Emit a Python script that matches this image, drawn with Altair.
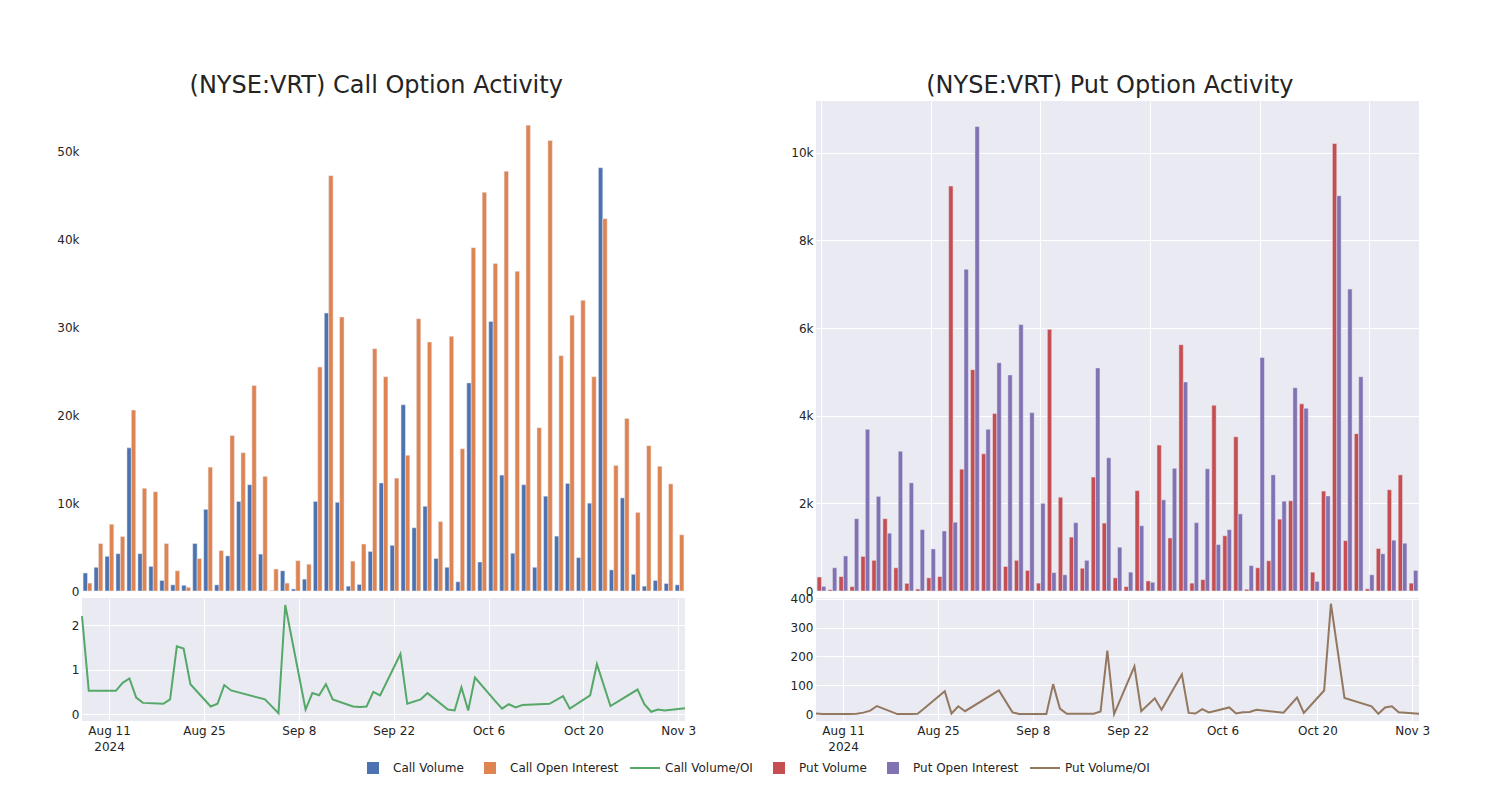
import altair as alt
import pandas as pd

# ---------------- data ----------------
dates = [
    "2024-08-07", "2024-08-08", "2024-08-12", "2024-08-13", "2024-08-14", "2024-08-15",
    "2024-08-16", "2024-08-19", "2024-08-20", "2024-08-21", "2024-08-22", "2024-08-23",
    "2024-08-26", "2024-08-27", "2024-08-28", "2024-08-29", "2024-09-03", "2024-09-05",
    "2024-09-06", "2024-09-09", "2024-09-10", "2024-09-11", "2024-09-12", "2024-09-13",
    "2024-09-16", "2024-09-17", "2024-09-18", "2024-09-19", "2024-09-20", "2024-09-23",
    "2024-09-24", "2024-09-26", "2024-09-27", "2024-09-30", "2024-10-01", "2024-10-02",
    "2024-10-03", "2024-10-04", "2024-10-07", "2024-10-08", "2024-10-09", "2024-10-10",
    "2024-10-11", "2024-10-15", "2024-10-17", "2024-10-18", "2024-10-21", "2024-10-22",
    "2024-10-24", "2024-10-28", "2024-10-29", "2024-10-30", "2024-10-31", "2024-11-01",
    "2024-11-04",
]

call_volume = [
    2050, 2700, 3950, 4250, 16300, 4250, 2800, 1200, 700, 650, 5400, 9300,
    700, 4000, 10200, 12100, 4200, 50, 2300, 230, 1350, 10200, 31650, 10100,
    550, 750, 4500, 12300, 5200, 21200, 7200, 9650, 3700, 2700, 1050, 23700,
    3300, 30700, 13200, 4300, 12100, 2700, 10800, 6250, 12250, 3800, 10000, 48200,
    2400, 10600, 1900, 550, 1200, 850, 700,
]
call_open_interest = [
    900, 5400, 7600, 6200, 20600, 11700, 11300, 5400, 2300, 420, 3700, 14100,
    4600, 17700, 15750, 23400, 13050, 2500, 900, 3450, 3050, 25500, 47300, 31200,
    3400, 5350, 27600, 24400, 12850, 15450, 31000, 28350, 7900, 29000, 16200, 39100,
    45400, 37300, 47800, 36400, 53050, 18600, 51300, 26800, 31400, 33100, 24400, 42400,
    14300, 19650, 8950, 16550, 14200, 12200, 6400,
]
call_vol_oi = [
    2.2, 0.52, 0.52, 0.7, 0.8, 0.37, 0.25, 0.23, 0.33, 1.52, 1.47, 0.67,
    0.17, 0.23, 0.65, 0.53, 0.33, 0.02, 2.45, 0.1, 0.47, 0.42, 0.67, 0.33,
    0.17, 0.16, 0.17, 0.5, 0.42, 1.35, 0.23, 0.33, 0.47, 0.1, 0.08, 0.6,
    0.08, 0.82, 0.29, 0.12, 0.22, 0.15, 0.2, 0.23, 0.4, 0.12, 0.42, 1.12,
    0.18, 0.55, 0.22, 0.05, 0.1, 0.08, 0.13,
]

put_volume = [
    320, 30, 330, 100, 790, 700, 1650, 530, 175, 45, 300, 330,
    9240, 2780, 5050, 3130, 4050, 560, 700, 470, 180, 5970, 2140, 1230,
    520, 2600, 1550, 300, 100, 2290, 230, 3330, 1210, 5620, 180, 260,
    4240, 1260, 3520, 40, 530, 690, 1640, 2060, 4270, 430, 2280, 10210,
    1150, 3590, 50, 970, 2310, 2650, 180,
]
put_open_interest = [
    105, 530, 800, 1650, 3690, 2160, 1320, 3190, 2470, 1400, 960, 1370,
    1570, 7340, 10600, 3690, 5210, 4930, 6080, 4070, 2000, 420, 370, 1560,
    700, 5090, 3040, 1000, 430, 1490, 200, 2080, 2800, 4770, 1560, 2790,
    1060, 1400, 1760, 580, 5330, 2650, 2050, 4640, 4170, 220, 2170, 9020,
    6890, 4890, 370, 850, 1160, 1090, 470,
]
put_vol_oi = [
    2, 0, 0.5, 1, 5, 12, 28, 0, 0.5, 0.5, 1, 20,
    79, 2, 27, 10, 82, 6, 0.5, 0.5, 0.5, 104, 19, 1,
    1, 1, 9, 220, 0, 166, 10, 55, 15, 138, 4, 2,
    17, 6, 23, 2, 6, 7, 15, 5, 57, 4, 82, 383,
    56, 27, 1, 23, 27, 6, 1,
]

bottom_tick_dates = [(2024, 8, 11), (2024, 8, 25), (2024, 9, 8), (2024, 9, 22),
                     (2024, 10, 6), (2024, 10, 20), (2024, 11, 3)]
call_bar_ticks = [0, 10000, 20000, 30000, 40000, 50000]
put_bar_ticks = [0, 2000, 4000, 6000, 8000, 10000]
call_ratio_ticks = [0, 1, 2]
put_ratio_ticks = [0, 100, 200, 300, 400]

# legend order (as shown) and colours
SERIES = ["Call Volume", "Call Open Interest", "Call Volume/OI",
          "Put Volume", "Put Open Interest", "Put Volume/OI"]
COLORS = ["#4C72B0", "#DD8452", "#55A868", "#C44E52", "#8172B3", "#937860"]
SQ = "M-0.4,-0.4H0.4V0.4H-0.4Z"
LN = "M-1,-0.067H1V0.067H-1Z"
SHAPES = [SQ, SQ, LN, SQ, SQ, LN]

FONT = "DejaVu Sans"
TXT = "#242424"
BG = "#EAEAF2"

W = 603
H_BAR = 490
H_LINE = 123
N = len(dates)
STEP = W / N          # band step of the bar panels (px)
HALF_SHIFT = STEP * 0.2  # each bar is half of the 0.8-step band

# mark colour scale (domain in a different order than the legend one)
MARK_SERIES = ["Call Volume", "Call Open Interest", "Put Volume", "Put Open Interest",
               "Call Volume/OI", "Put Volume/OI"]
MARK_COLORS = [COLORS[SERIES.index(s)] for s in MARK_SERIES]
color_scale = alt.Scale(domain=MARK_SERIES, range=MARK_COLORS)

grid_dates = dates[::10]
bottom_values = [alt.DateTime(year=y, month=m, date=d, utc=True) for (y, m, d) in bottom_tick_dates]
label_expr = ("utcmonth(datum.value) == 7 && utcdate(datum.value) == 11 ? "
              "[utcFormat(datum.value, '%b %-d'), '2024'] : utcFormat(datum.value, '%b %-d')")
k_expr = "datum.value == 0 ? '0' : format(datum.value / 1000, 'd') + 'k'"


def panel(vol, oi, ratio, names, bar_dom, bar_ticks, line_dom, line_ticks, title, legend=None):
    vname, oname, rname = names
    bdf = pd.DataFrame({
        "date": dates + dates,
        "value": vol + oi,
        "series": [vname] * N + [oname] * N,
    })
    ldf = pd.DataFrame({"date": dates, "ratio": ratio, "series": [rname] * N})

    enc = dict(
        x=alt.X("date:O", title=None,
                scale=alt.Scale(paddingInner=0.2, paddingOuter=0.1),
                axis=alt.Axis(values=grid_dates, labels=False, ticks=False, domain=False,
                              grid=True, bandPosition=0.5)),
        y=alt.Y("value:Q", title=None,
                scale=alt.Scale(domain=bar_dom, nice=False, zero=True),
                axis=alt.Axis(values=bar_ticks, labelExpr=k_expr)),
        color=alt.Color("series:N", scale=color_scale, legend=None),
    )
    base = alt.Chart(bdf)
    bars_v = base.transform_filter(alt.datum.series == vname).mark_bar(
        width=alt.RelativeBandSize(0.5), xOffset=-HALF_SHIFT,
        stroke=BG, strokeWidth=0.5).encode(**enc)
    bars_o = base.transform_filter(alt.datum.series == oname).mark_bar(
        width=alt.RelativeBandSize(0.5), xOffset=HALF_SHIFT,
        stroke=BG, strokeWidth=0.5).encode(**enc)
    layers = [bars_v, bars_o]
    if legend is not None:
        leg_layer = alt.Chart(pd.DataFrame({"series": SERIES})).mark_point(
            filled=True, opacity=1, size=0).encode(
            fill=alt.Fill("series:N", scale=alt.Scale(domain=SERIES, range=COLORS),
                          legend=alt.Legend(**legend)),
            shape=alt.Shape("series:N", scale=alt.Scale(domain=SERIES, range=SHAPES),
                            legend=alt.Legend(**legend)),
        )
        layers.append(leg_layer)
    top = alt.layer(*layers).properties(width=W, height=H_BAR)

    line = alt.Chart(ldf).mark_line(strokeWidth=2).encode(
        x=alt.X("date:T", title=None,
                scale=alt.Scale(type="utc", nice=False),
                axis=alt.Axis(values=bottom_values, labelExpr=label_expr, grid=True,
                              ticks=False, domain=False, labelPadding=4,
                              labelLineHeight=16)),
        y=alt.Y("ratio:Q", title=None,
                scale=alt.Scale(domain=line_dom, nice=False, zero=False),
                axis=alt.Axis(values=line_ticks)),
        color=alt.Color("series:N", scale=color_scale, legend=None),
    ).properties(width=W, height=H_LINE)

    return alt.vconcat(
        top, line, spacing=7, bounds="flush",
        title=alt.TitleParams(title, fontSize=24, font=FONT, color=TXT,
                              fontWeight="normal", anchor="middle", offset=3),
    ).resolve_scale(x="independent", y="independent")


legend_cfg = dict(
    title=None, orient="none", legendX=276, legendY=652, direction="horizontal",
    symbolSize=900, labelFont=FONT, labelFontSize=12, labelColor=TXT,
    labelOffset=5, columnPadding=11, symbolStrokeWidth=0, padding=0,
)

call_panel = panel(call_volume, call_open_interest, call_vol_oi,
                   ("Call Volume", "Call Open Interest", "Call Volume/OI"),
                   [0, 55800], call_bar_ticks, [-0.157, 2.607], call_ratio_ticks,
                   "(NYSE:VRT) Call Option Activity", legend=legend_cfg)
put_panel = panel(put_volume, put_open_interest, put_vol_oi,
                  ("Put Volume", "Put Open Interest", "Put Volume/OI"),
                  [0, 11180], put_bar_ticks, [-24, 403], put_ratio_ticks,
                  "(NYSE:VRT) Put Option Activity")

chart = alt.hconcat(call_panel, put_panel, spacing=94).properties(
    padding={"left": 48, "top": 66, "right": 5, "bottom": 5},
).configure_view(
    fill=BG, stroke=None,
).configure_axis(
    labelFont=FONT, labelFontSize=12, labelColor=TXT, gridColor="white", gridWidth=1,
    domain=False, ticks=False, tickSize=0, labelPadding=3,
).configure_legend(
    labelFont=FONT, labelFontSize=12, labelColor=TXT,
)

chart.save("out.html", embed_options={"renderer": "svg", "actions": False})
